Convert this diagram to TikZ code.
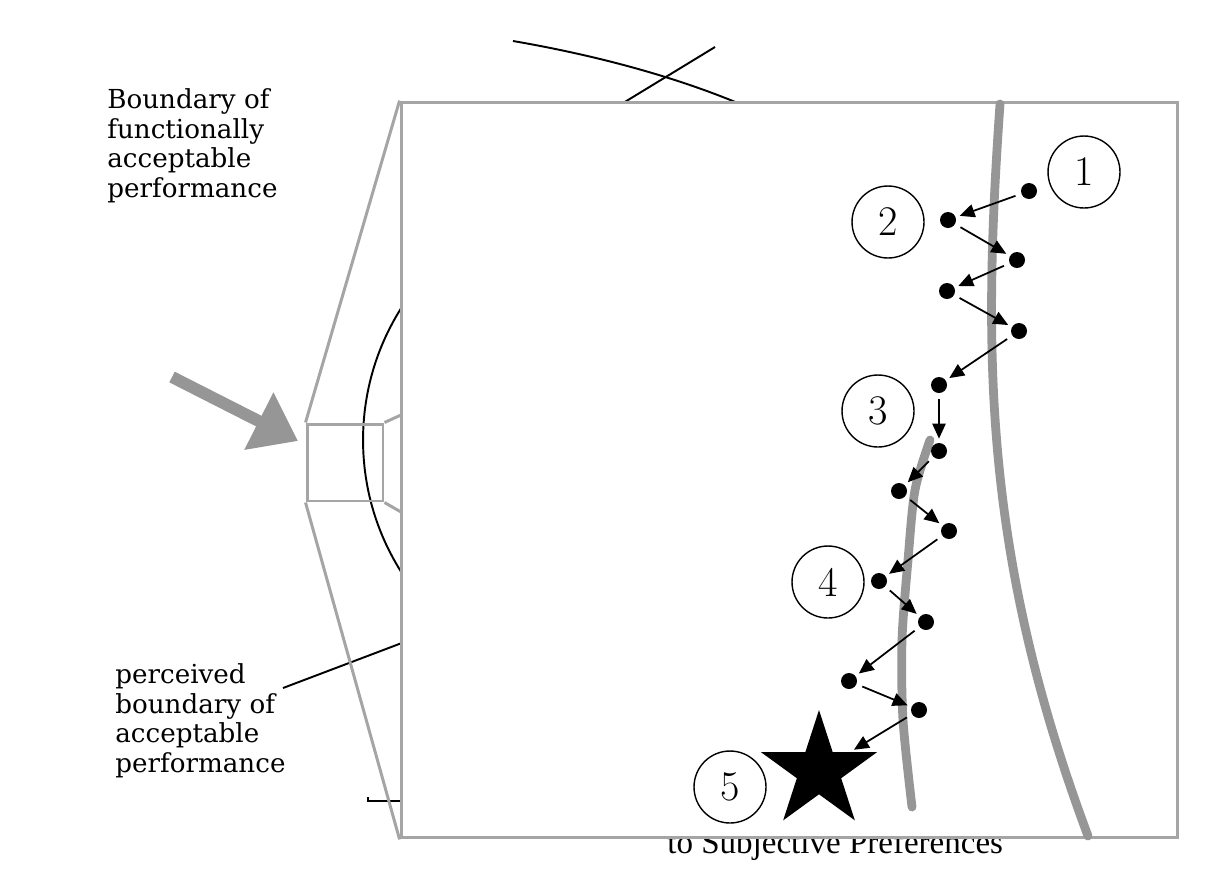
\documentclass[tikz,border=0pt]{standalone}
\usepackage{fontspec}
\newfontfamily\notefont{DejaVu Serif}
\newfontfamily\capfont{Liberation Serif}
\usetikzlibrary{arrows.meta, shapes.geometric}
\definecolor{chalk}{RGB}{150,150,150}
\definecolor{framegray}{RGB}{165,165,165}

\begin{document}
\begin{tikzpicture}[x=0.02cm, y=-0.02cm,
  dot/.style={circle, fill=black, minimum size=0.32cm, inner sep=0pt},
  stepnum/.style={circle, draw, line width=0.8pt, minimum size=1.44cm, inner sep=0pt, font=\fontsize{24}{28}\selectfont},
  hop/.style={line width=1pt, -{Triangle[length=8.5pt, width=7.5pt]}, shorten <=1.2mm, shorten >=0.8mm},
  boundary/.style={chalk, line width=5pt, line cap=round},
  behind/.style={line width=1.1pt},
  note/.style={font=\notefont\fontsize{14.9}{17}\selectfont, align=left, inner sep=0pt, anchor=north west}]
  \useasboundingbox (0,0) rectangle (1206,890);
  % texts and lines of the figure underneath
  \node[note] (fab) at (107,88) {Boundary of\\functionally\\acceptable\\performance};
  \node[note] (pab) at (115,663) {perceived\\boundary of\\acceptable\\performance};
  \node[anchor=base west, inner sep=0pt, font=\capfont\fontsize{18.8}{22}\selectfont] (pref) at (667,853) {to Subjective Preferences};
  \coordinate (pabend) at (415,638);
  \draw[behind] (283,688) -- (pabend);
  \draw[behind] (513,41) .. controls (600,56) and (690,80) .. (765,115);
  \draw[behind] (610,111) -- (715,47);
  \draw[behind] (368,797) -- (368,801) -- (410,801);
  \draw[behind] (610,440) circle[radius=4.94cm];
  % zoomed panel
  \node[draw=framegray, fill=white, line width=1.7pt, minimum width=15.54cm, minimum height=14.72cm, inner sep=0pt] (panel) at (789.5,470) {};
  \node[draw=framegray, line width=1.7pt, minimum width=1.52cm, minimum height=1.54cm, inner sep=0pt] (zoombox) at (345,462.5) {};
  \coordinate (pin) at (401,415);
  \coordinate (pout) at (401,512);
  \draw[framegray, line width=1.7pt] (zoombox.north west) -- (panel.north west);
  \draw[framegray, line width=1.7pt] (zoombox.south west) -- (panel.south west);
  \draw[framegray, line width=1.7pt] (zoombox.north east) -- (pin);
  \draw[framegray, line width=1.7pt] (zoombox.south east) -- (pout);
  % pointer
  \coordinate (ptail) at (172,377);
  \coordinate (ptip) at (298,441);
  \draw[chalk, line width=6.8pt, -{Triangle[length=25pt, width=35pt]}] (ptail) -- (ptip);
  % boundaries
  \draw[boundary] (1000,104) .. controls (982,360) and (985,560) .. (1088,836);
  \draw[boundary] plot[smooth] coordinates {(930,440) (915,490) (908,560) (902,640) (903,720) (912,807)};
  % steps
  \foreach \i/\xp/\yp in {1/1029/191, 2/948/220, 3/1017/260, 4/947/291, 5/1019/331, 6/939/385, 7/939/451,
                         8/899/491, 9/949/531, 10/879/581, 11/926/622, 12/849/681, 13/919/710} {
    \node[dot] (d\i) at (\xp,\yp) {};
  }
  \node[star, star points=5, star point ratio=2.618, fill=black, minimum size=2.44cm, inner sep=0pt] (goal) at (819,771) {};
  \foreach \i/\ii in {1/2, 2/3, 3/4, 4/5, 5/6, 6/7, 7/8, 8/9, 9/10, 10/11, 11/12, 12/13} {
    \draw[hop] (d\i) -- (d\ii);
  }
  \draw[hop] (d13) -- (goal);
  % step numbers
  \foreach \n/\xp/\yp in {1/1084/172, 2/888/222, 3/878/411, 4/828/582, 5/730/787} {
    \node[stepnum] (n\n) at (\xp,\yp) {\n};
  }
\end{tikzpicture}
\end{document}
